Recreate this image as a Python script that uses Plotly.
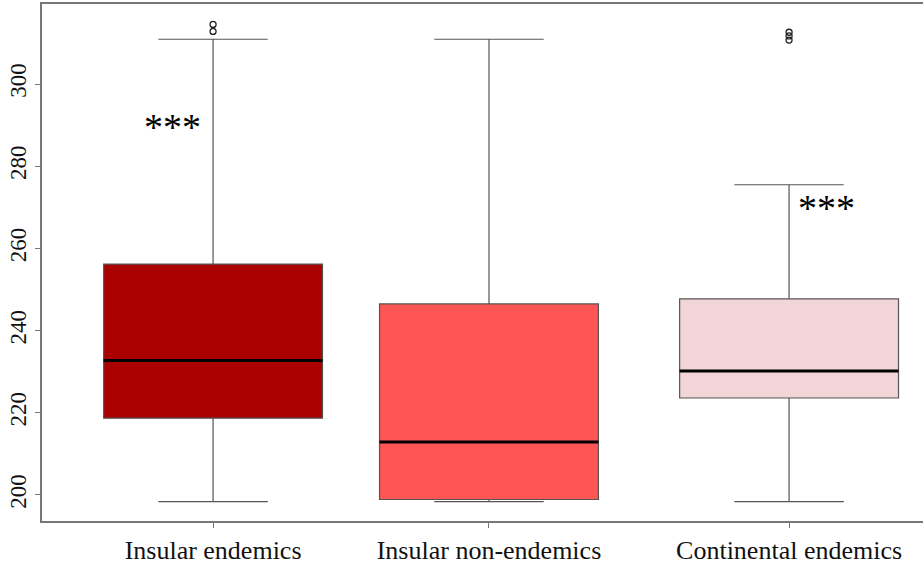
import plotly.graph_objects as go

categories = ["Insular endemics", "Insular non-endemics", "Continental endemics"]
positions = [1.0, 1.958, 3.0]
q1 = [218.7, 198.9, 223.6]
median = [232.7, 212.9, 230.2]
q3 = [256.2, 246.5, 247.7]
lower_whisker = [198.4, 198.4, 198.4]
upper_whisker = [310.9, 310.9, 275.5]
outliers = [[312.8, 314.5], [], [310.7, 311.7, 312.6]]
fill_colors = ["#AA0000", "#FF5555", "#F2D5D7"]
star_labels = ["***", "", "***"]
star_offsets_x = [-0.14, 0, 0.13]
star_y = [289.6, None, 269.9]

box_width = 0.76
font_family = "Liberation Serif, Times New Roman, serif"

fig = go.Figure()

for i, cat in enumerate(categories):
    fig.add_trace(go.Box(
        x=[positions[i]], q1=[q1[i]], median=[median[i]], q3=[q3[i]],
        lowerfence=[lower_whisker[i]], upperfence=[upper_whisker[i]],
        width=box_width, whiskerwidth=0.5,
        fillcolor=fill_colors[i],
        line=dict(color="#555555", width=1.2),
        boxpoints=False, showlegend=False, name=cat,
    ))
    fig.add_trace(go.Scatter(
        x=[positions[i] - box_width / 2, positions[i] + box_width / 2],
        y=[median[i], median[i]], mode="lines",
        line=dict(color="black", width=3), showlegend=False, hoverinfo="skip",
    ))
    if outliers[i]:
        fig.add_trace(go.Scatter(
            x=[positions[i]] * len(outliers[i]), y=outliers[i], mode="markers",
            marker=dict(symbol="circle-open", size=6, color="#222222", line=dict(width=1.3)),
            showlegend=False, hoverinfo="skip",
        ))
    if star_labels[i]:
        fig.add_annotation(
            x=positions[i] + star_offsets_x[i], y=star_y[i], text=star_labels[i],
            showarrow=False, font=dict(family=font_family, size=38, color="black"),
            xanchor="center", yanchor="middle",
        )

fig.update_layout(
    width=923, height=565,
    margin=dict(l=42, r=0, t=4, b=44, pad=0),
    paper_bgcolor="white", plot_bgcolor="white",
    font=dict(family=font_family, size=22, color="#111111"),
    xaxis=dict(
        range=[0.406, 3.465], tickvals=positions, ticktext=categories,
        tickfont=dict(size=26),
        showgrid=False, zeroline=False, showline=True, mirror=True,
        linecolor="#777777", linewidth=1.5, automargin=False,
        ticks="outside", ticklen=5, tickcolor="#777777", tickwidth=1,
    ),
    yaxis=dict(
        range=[193.67, 319.48], tickvals=[200, 220, 240, 260, 280, 300],
        tickfont=dict(size=23),
        tickangle=-90, showgrid=False, zeroline=False, showline=True, mirror=False,
        linecolor="#777777", linewidth=1.5, automargin=False,
        ticks="outside", ticklen=5, tickcolor="#777777", tickwidth=1,
    ),
)

fig.write_html(
    "out.html",
    config={"displayModeBar": False},
    post_script="document.body.style.margin='0';document.body.style.overflow='hidden';",
)
